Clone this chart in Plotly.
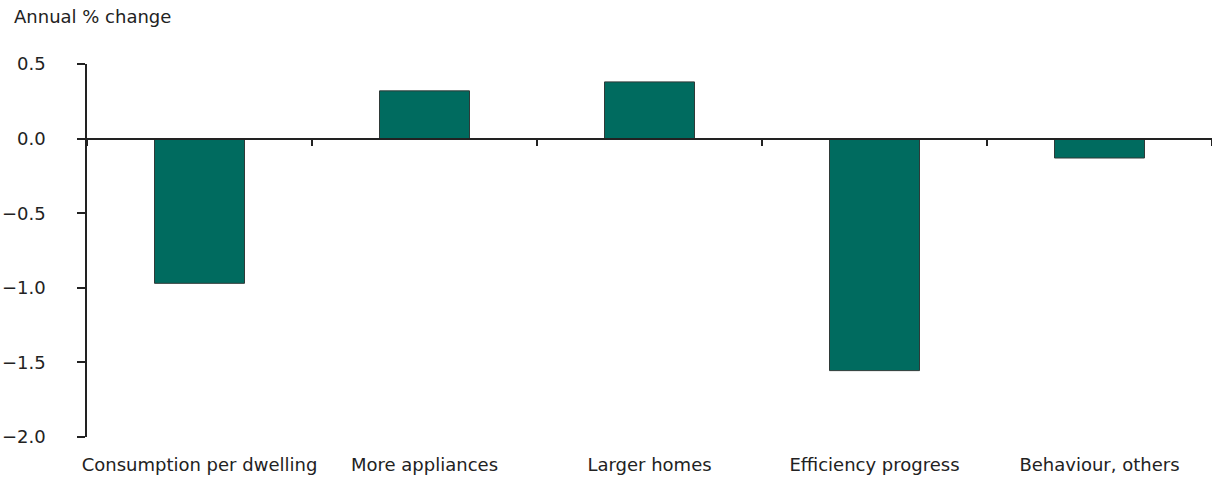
import plotly.graph_objects as go

categories = ["Consumption per dwelling", "More appliances", "Larger homes",
              "Efficiency progress", "Behaviour, others"]
values = [-0.97, 0.32, 0.38, -1.555, -0.13]
y_ticks = [0.5, 0.0, -0.5, -1.0, -1.5, -2.0]
y_title = "Annual % change"

W, H = 1212, 478
L, R, T, B = 87, 0, 64, 41
FONT = "DejaVu Sans"
FS = 18

fig = go.Figure()
fig.add_trace(go.Bar(
    x=categories, y=values, width=0.4,
    marker=dict(color="#006b5f", line=dict(color="#2f3a38", width=1)),
    xaxis="x", yaxis="y",
))
fig.add_trace(go.Bar(x=categories, y=[None]*len(categories), xaxis="x2", yaxis="y",
                     showlegend=False, hoverinfo="skip"))

fig.update_layout(
    width=W, height=H,
    margin=dict(l=L, r=R, t=T, b=B, autoexpand=False),
    plot_bgcolor="white", paper_bgcolor="white",
    showlegend=False,
    bargap=0.6,
    font=dict(family=FONT, size=FS, color="#222"),
    xaxis=dict(
        type="category", showline=False, ticks="", showgrid=False, zeroline=False,
        automargin=False,
        tickfont=dict(family=FONT, size=FS, color="#222"),
        ticklabelstandoff=15,
    ),
    xaxis2=dict(
        type="category", overlaying="x", anchor="free", position=0.8,
        showline=True, linecolor="#222", linewidth=1.5,
        ticks="outside", tickson="boundaries", ticklen=7, tickwidth=1.5, tickcolor="#222",
        showticklabels=False, showgrid=False, zeroline=False,
        automargin=False, matches="x",
    ),
    yaxis=dict(
        range=[-2.0, 0.5], tickvals=y_ticks, tickformat=".1f",
        showline=True, linecolor="#222", linewidth=1.5,
        ticks="outside", ticklen=8, tickwidth=1.5, tickcolor="#222",
        showgrid=False, zeroline=False, automargin=False,
        tickfont=dict(family=FONT, size=FS, color="#222"),
        ticklabelstandoff=28,
    ),
    annotations=[dict(
        text=y_title, xref="paper", yref="paper",
        x=(12 - L) / (W - L - R), y=1 + (T - 17) / (H - T - B),
        xanchor="left", yanchor="middle", showarrow=False,
        font=dict(family=FONT, size=FS, color="#222"),
    )],
)

fig.write_html("out.html", config={"displayModeBar": False},
               post_script="document.body.style.margin='0';document.body.style.overflow='hidden';")
